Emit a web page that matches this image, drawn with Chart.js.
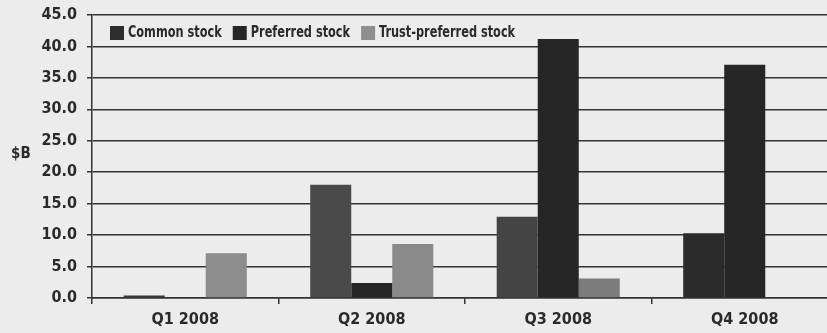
<!DOCTYPE html>
<html>
<head>
<meta charset="utf-8">
<script src="https://cdn.jsdelivr.net/npm/chart.js@4"></script>
<style>
  html, body { margin: 0; padding: 0; background: #ececec; overflow: hidden; }
  /* plot runs a little past the right edge in the scan, so the canvas is wider than the window */
  #wrap { position: relative; width: 838px; height: 333px; }
</style>
</head>
<body>
<div id="wrap"><canvas id="capChart"></canvas></div>
<script>
  // values, $B per quarter
  const quarters = ['Q1 2008', 'Q2 2008', 'Q3 2008', 'Q4 2008'];
  const commonStock = [0.4, 18.0, 12.9, 10.3];
  const preferredStock = [0, 2.4, 41.2, 37.1];
  const trustPreferred = [7.1, 8.6, 3.1, 0];
  const yMin = 0, yMax = 45, yStep = 5;

  const FONT = "'DejaVu Sans Condensed', 'DejaVu Sans', sans-serif";
  const INK = '#2a2a2a';

  // horizontal "$B" unit label left of the axis
  const unitLabel = {
    id: 'unitLabel',
    afterDraw(chart) {
      const c = chart.ctx;
      c.save();
      c.font = 'bold 15px ' + FONT;
      c.fillStyle = INK;
      c.textAlign = 'left';
      c.textBaseline = 'middle';
      c.fillText('$B', 11, 154);
      c.restore();
    }
  };

  // one-row legend sitting inside the plot, top left
  // text is squeezed sideways to look like the narrow face of the scan
  const rowLegend = {
    id: 'rowLegend',
    afterDraw(chart) {
      const c = chart.ctx;
      const area = chart.chartArea;
      const squeeze = 0.84;
      let x = area.left + 18;
      const y = area.top + 18;
      c.save();
      c.font = 'bold 15px ' + FONT;
      c.textBaseline = 'middle';
      c.textAlign = 'left';
      chart.data.datasets.forEach(ds => {
        c.fillStyle = ds.legendColor;
        c.fillRect(x, y - 7, 14, 14);
        x += 18;
        c.fillStyle = INK;
        c.save();
        c.translate(x, y);
        c.scale(squeeze, 1);
        c.fillText(ds.label, 0, 0);
        c.restore();
        x += c.measureText(ds.label).width * squeeze + 11;
      });
      c.restore();
    }
  };

  const ctx = document.getElementById('capChart').getContext('2d');
  new Chart(ctx, {
    type: 'bar',
    data: {
      labels: quarters,
      datasets: [
        { label: 'Common stock', data: commonStock, backgroundColor: ['#3a3a3a', '#4a4a4a', '#444444', '#2b2b2b'], legendColor: '#2e2e2e' },
        { label: 'Preferred stock', data: preferredStock, backgroundColor: '#262626', legendColor: '#262626' },
        { label: 'Trust-preferred stock', data: trustPreferred, backgroundColor: ['#8c8c8c', '#8a8a8a', '#7c7c7c', '#8c8c8c'], legendColor: '#8e8e8e' }
      ]
    },
    options: {
      responsive: true,
      maintainAspectRatio: false,
      animation: false,
      layout: { padding: { top: 15, right: 0, left: 0, bottom: 0 } },
      datasets: {
        bar: { categoryPercentage: 0.66, barPercentage: 1.0, borderWidth: 0 }
      },
      plugins: {
        title: { display: false },
        tooltip: { enabled: false },
        legend: { display: false }
      },
      scales: {
        x: {
          afterFit: (scale) => { scale.height = 35; scale.paddingLeft = 0; scale.paddingRight = 0; },
          grid: { drawOnChartArea: false, drawTicks: true, tickLength: 6, color: '#333', lineWidth: 1.5, offset: true },
          border: { display: true, color: '#333', width: 1.5 },
          ticks: { color: INK, padding: 6, font: { family: FONT, size: 16, weight: 'bold' } }
        },
        y: {
          min: yMin,
          max: yMax,
          afterFit: (scale) => { scale.width = 92; scale.paddingTop = 0; scale.paddingBottom = 0; },
          grid: { color: '#333', lineWidth: 1.5, tickLength: 5 },
          border: { display: true, color: '#333', width: 1.5 },
          ticks: {
            stepSize: yStep,
            color: INK,
            padding: 10,
            font: { family: FONT, size: 16, weight: 'bold' },
            callback: (v) => v.toFixed(1)
          }
        }
      }
    },
    plugins: [unitLabel, rowLegend]
  });
</script>
</body>
</html>
